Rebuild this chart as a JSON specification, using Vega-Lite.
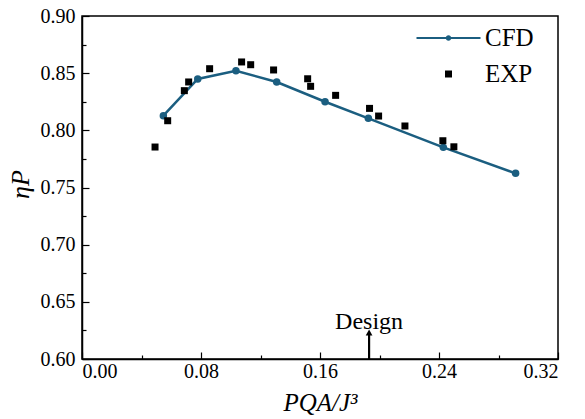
{
  "$schema": "https://vega.github.io/schema/vega-lite/v6.json",
  "width": 476,
  "height": 343,
  "autosize": "none",
  "padding": {"left": 82, "top": 16, "right": 27, "bottom": 60},
  "background": "white",
  "config": {
    "view": {"stroke": "black", "strokeWidth": 1.5},
    "font": "Liberation Serif",
    "axis": {
      "grid": false,
      "domainColor": "black",
      "domainWidth": 1.5,
      "tickColor": "black",
      "tickWidth": 1.2,
      "labelColor": "black",
      "labelFont": "Liberation Serif",
      "labelFontSize": 20,
      "titleFont": "Liberation Serif",
      "titleColor": "black",
      "titleFontWeight": "normal"
    },
    "legend": {
      "orient": "none",
      "legendX": 354,
      "legendY": 9.5,
      "padding": 0,
      "symbolSize": 100,
      "symbolOpacity": 1,
      "labelFont": "Liberation Serif",
      "labelFontSize": 25,
      "labelColor": "black",
      "labelOffset": 24,
      "rowPadding": 10
    }
  },
  "datasets": {
    "pts": [
      {"series": "CFD", "x": 0.0547, "y": 0.8128},
      {"series": "CFD", "x": 0.0778, "y": 0.8449},
      {"series": "CFD", "x": 0.1035, "y": 0.8521},
      {"series": "CFD", "x": 0.1309, "y": 0.8423},
      {"series": "CFD", "x": 0.1634, "y": 0.8250},
      {"series": "CFD", "x": 0.1925, "y": 0.8105},
      {"series": "CFD", "x": 0.2429, "y": 0.7851},
      {"series": "CFD", "x": 0.2915, "y": 0.7624},
      {"series": "EXP", "x": 0.0491, "y": 0.7854},
      {"series": "EXP", "x": 0.0576, "y": 0.8084},
      {"series": "EXP", "x": 0.0688, "y": 0.8347},
      {"series": "EXP", "x": 0.0717, "y": 0.8423},
      {"series": "EXP", "x": 0.0858, "y": 0.8539},
      {"series": "EXP", "x": 0.1073, "y": 0.8598},
      {"series": "EXP", "x": 0.1134, "y": 0.8574},
      {"series": "EXP", "x": 0.1288, "y": 0.8528},
      {"series": "EXP", "x": 0.1517, "y": 0.8451},
      {"series": "EXP", "x": 0.1537, "y": 0.8385},
      {"series": "EXP", "x": 0.1705, "y": 0.8306},
      {"series": "EXP", "x": 0.1933, "y": 0.8192},
      {"series": "EXP", "x": 0.1994, "y": 0.8125},
      {"series": "EXP", "x": 0.2171, "y": 0.8038},
      {"series": "EXP", "x": 0.2426, "y": 0.7909},
      {"series": "EXP", "x": 0.2500, "y": 0.7856}
    ],
    "arrow": [{"x": 0.193, "y": 0.60, "y2": 0.6215}],
    "head": [{"x": 0.193, "y": 0.6232}],
    "note": [{"x": 0.193, "y": 0.632, "label": "Design"}]
  },
  "encoding": {
    "x": {
      "field": "x",
      "type": "quantitative",
      "scale": {"domain": [0, 0.32], "nice": false, "zero": false},
      "axis": {
        "title": "PQA/J³",
        "titleFontSize": 25,
        "titleFontStyle": "italic",
        "titleY": 43,
        "titleBaseline": "middle",
        "values": [0, 0.04, 0.08, 0.12, 0.16, 0.2, 0.24, 0.28, 0.32],
        "labelExpr": "round(datum.value*100)%8===0 ? format(datum.value, '.2f') : ''",
        "tickSize": {"condition": {"test": "round(datum.value*100)%8===0", "value": -7}, "value": -4},
        "labelPadding": 9
      }
    },
    "y": {
      "field": "y",
      "type": "quantitative",
      "scale": {"domain": [0.6, 0.9], "nice": false, "zero": false},
      "axis": {
        "title": "ηP",
        "titleFontSize": 26,
        "titleFontStyle": "italic",
        "titleX": -62,
        "titleY": 168,
        "titleAlign": "center",
        "titleBaseline": "middle",
        "values": [0.6, 0.625, 0.65, 0.675, 0.7, 0.725, 0.75, 0.775, 0.8, 0.825, 0.85, 0.875, 0.9],
        "labelExpr": "round(datum.value*1000)%50===0 ? format(datum.value, '.2f') : ''",
        "tickSize": {"condition": {"test": "round(datum.value*1000)%50===0", "value": -7}, "value": -4},
        "labelPadding": 14
      }
    }
  },
  "layer": [
    {
      "data": {"name": "pts"},
      "transform": [{"filter": "datum.series === 'CFD'"}],
      "mark": {"type": "line", "color": "#1b5e80", "strokeWidth": 2.5}
    },
    {
      "data": {"name": "pts"},
      "transform": [{"filter": "datum.series === 'CFD'"}],
      "mark": {"type": "point", "filled": true, "shape": "circle", "size": 56, "opacity": 1},
      "encoding": {
        "color": {
          "field": "series",
          "type": "nominal",
          "title": null,
          "scale": {"domain": ["CFD", "EXP"], "range": ["#1b5e80", "#000000"]}
        }
      }
    },
    {
      "data": {"name": "pts"},
      "transform": [{"filter": "datum.series === 'EXP'"}],
      "mark": {"type": "point", "filled": true, "size": 100, "opacity": 1},
      "encoding": {
        "color": {"field": "series", "type": "nominal", "title": null},
        "shape": {
          "field": "series",
          "type": "nominal",
          "title": null,
          "scale": {
            "domain": ["CFD", "EXP"],
            "range": ["M-6.4,-0.2L6.4,-0.2L6.4,0.2L-6.4,0.2ZM-0.55,0A0.55,0.55,0,1,1,0.55,0A0.55,0.55,0,1,1,-0.55,0Z", "M-0.7,-0.7L0.7,-0.7L0.7,0.7L-0.7,0.7Z"]
          }
        }
      }
    },
    {
      "data": {"name": "arrow"},
      "mark": {"type": "rule", "color": "black", "strokeWidth": 2.2},
      "encoding": {"y2": {"field": "y2"}}
    },
    {
      "data": {"name": "head"},
      "mark": {"type": "point", "shape": "triangle-up", "filled": true, "color": "black", "size": 45, "opacity": 1},
      "encoding": {}
    },
    {
      "data": {"name": "note"},
      "mark": {"type": "text", "font": "Liberation Serif", "fontSize": 24, "color": "black", "baseline": "middle", "align": "center"},
      "encoding": {"text": {"field": "label"}}
    }
  ]
}
